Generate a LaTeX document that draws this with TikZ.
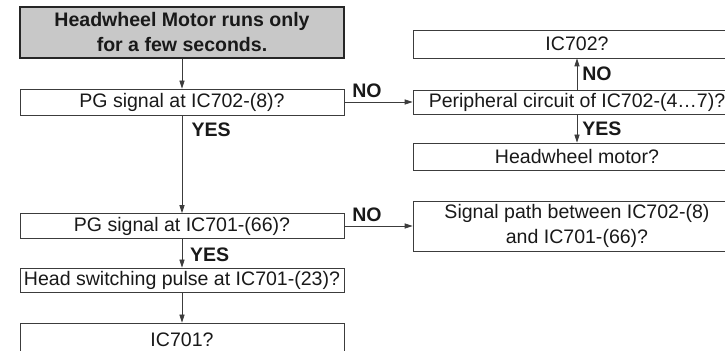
\documentclass[tikz,border=0pt]{standalone}
\usepackage{fontspec}
\setmainfont{Liberation Sans}
\usetikzlibrary{arrows.meta,positioning,calc}
\definecolor{chartline}{RGB}{60,60,60}
\definecolor{chartfill}{RGB}{200,200,200}
\definecolor{charttext}{RGB}{25,25,25}
\newcommand\chartsize{\fontsize{13.9}{17.8}\selectfont}
\tikzset{
  check/.style={draw=chartline, line width=0.6pt, fill=white, minimum width=81mm,
    align=center, inner sep=0pt, text=charttext, font=\chartsize},
  start/.style={check, draw=black!85, line width=1.3pt, fill=chartfill, font=\chartsize\bfseries},
  flow/.style={-{Triangle[length=2mm,width=1.3mm]}, line width=0.6pt, draw=chartline},
  answer/.style={font=\chartsize\bfseries, text=charttext, inner sep=2.5pt}
}

\begin{document}
\begin{tikzpicture}[x=0.25mm, y=-0.25mm]
  \useasboundingbox (0,0) rectangle (725,351);
  \clip (0,0) rectangle (725,351);

  % Main path down the left
  \node[start, minimum height=12.75mm] (title) at (182,32.5)
    {Headwheel Motor runs only\\for a few seconds.};
  \node[check, minimum height=6.5mm] (pg702) at (182,102) {PG signal at IC702-(8)?};
  \node[check, minimum height=6.25mm] (pg701) at (182,226) {PG signal at IC701-(66)?};
  \node[check, minimum height=6mm] (hsw) at (182,280) {Head switching pulse at IC701-(23)?};
  \node[check, minimum height=8.5mm] (ic701) at (182,340) {IC701?};

  % Branches on the right
  \node[check, minimum width=82mm, minimum height=7mm] (ic702) at (577,44) {IC702?};
  \node[check, minimum width=82mm, minimum height=6mm] (periph) at (577,102)
    {Peripheral circuit of IC702-(4…7)?};
  \node[check, minimum width=82mm, minimum height=6.75mm] (hwmotor) at (577,156.5)
    {Headwheel motor?};
  \node[check, minimum width=82mm, minimum height=12.5mm] (sigpath) at (577,226)
    {Signal path between IC702-(8)\\and IC701-(66)?};

  \draw[flow] (title) -- (pg702);
  \draw[flow] (pg702) -- node[answer, right=4pt, pos=0.15] {YES} (pg701);
  \draw[flow] (pg701) -- node[answer, right=3pt, pos=0.55] {YES} (hsw);
  \draw[flow] (hsw) -- (ic701);
  \draw[flow] (pg702) -- node[answer, above, pos=0.33] {NO} (periph);
  \draw[flow] (pg701) -- node[answer, above, pos=0.33] {NO} (sigpath);
  \draw[flow] (periph) -- node[answer, right=1pt] {NO} (ic702);
  \draw[flow] (periph) -- node[answer, right=1pt] {YES} (hwmotor);
\end{tikzpicture}
\end{document}
